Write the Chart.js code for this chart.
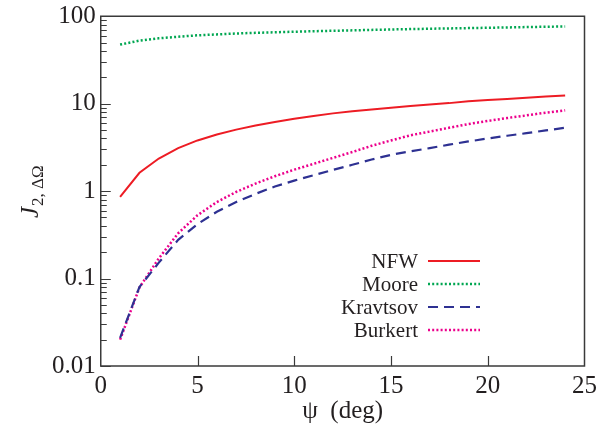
<!DOCTYPE html>
<html>
<head>
<meta charset="utf-8">
<script src="https://cdn.jsdelivr.net/npm/chart.js@4.4.1/dist/chart.umd.min.js"></script>
<style>
  html, body { margin: 0; padding: 0; background: #fff; }
  #wrap { width: 606px; height: 433px; }
</style>
</head>
<body>
<div id="wrap"><canvas id="chart" width="606" height="433"></canvas></div>
<script>
// opening angle psi (deg)
const psi = [1, 2, 3, 4, 5, 6, 7, 8, 9, 10, 11, 12, 13, 14, 15, 16, 17, 18, 19, 20, 21, 22, 23, 24];

// J_2 for each halo profile
const nfw = [0.86, 1.62, 2.36, 3.1, 3.8, 4.45, 5.05, 5.62, 6.18, 6.73, 7.25, 7.75,
  8.2, 8.6, 9.0, 9.4, 9.8, 10.15, 10.65, 11.0, 11.35, 11.7, 12.05, 12.4];
const moore = [47.4, 52.6, 56, 58.3, 60.5, 62, 63.5, 64.6, 65.6, 66.5, 67.4, 68.2,
  69, 69.8, 70.6, 71.3, 72, 72.6, 73.2, 73.8, 74.5, 75.2, 75.8, 76.5];
const kravtsov = [0.021, 0.08, 0.152, 0.277, 0.42, 0.58, 0.75, 0.93, 1.13, 1.32, 1.52, 1.75,
  2.0, 2.3, 2.6, 2.85, 3.1, 3.4, 3.7, 4.0, 4.3, 4.6, 4.95, 5.3];
const burkert = [0.02, 0.079, 0.17, 0.33, 0.53, 0.75, 0.98, 1.22, 1.48, 1.76, 2.05, 2.4,
  2.8, 3.3, 3.8, 4.35, 4.8, 5.3, 5.85, 6.35, 6.85, 7.35, 7.9, 8.4];

const xTicks = [0, 5, 10, 15, 20, 25];
const yDecades = [0.01, 0.1, 1, 10, 100];

const ink = "#231f20";
const serif = "'Liberation Serif', 'DejaVu Serif', serif";

// 1..9 per decade for the log axis
const yTickValues = [];
yDecades.forEach((d, i) => {
  yTickValues.push(d);
  if (i < yDecades.length - 1) {
    for (let m = 2; m <= 9; m++) yTickValues.push(m * d);
  }
});

function pts(ys) {
  return ys.map((y, i) => ({ x: psi[i], y: y }));
}

const datasets = [
  { label: "NFW", data: pts(nfw), borderColor: "#ed1c24", borderWidth: 2, borderDash: [] },
  { label: "Moore", data: pts(moore), borderColor: "#00a651", borderWidth: 2.5, borderDash: [2, 2.2] },
  { label: "Kravtsov", data: pts(kravtsov), borderColor: "#2e3192", borderWidth: 2.2, borderDash: [10, 6] },
  { label: "Burkert", data: pts(burkert), borderColor: "#ec008c", borderWidth: 2.5, borderDash: [2, 2.2] },
].map((d) => Object.assign(d, { pointRadius: 0, fill: false, tension: 0 }));

// frame, inward tick marks, y title and legend
const decorations = {
  id: "decorations",
  afterDatasetsDraw(chart) {
    const ctx = chart.ctx;
    const a = chart.chartArea;
    const xs = chart.scales.x;
    const ys = chart.scales.y;

    ctx.save();
    ctx.strokeStyle = "#3a3a3a";
    ctx.lineWidth = 1.5;
    ctx.strokeRect(a.left, a.top, a.right - a.left, a.bottom - a.top);

    ctx.beginPath();
    yTickValues.forEach((v) => {
      const y = Math.round(ys.getPixelForValue(v)) + 0.5;
      const lg = Math.log10(v);
      const len = Math.abs(lg - Math.round(lg)) < 1e-9 ? 10 : 6;
      ctx.moveTo(a.left, y);
      ctx.lineTo(a.left + len, y);
    });
    xTicks.slice(1, -1).forEach((v) => {
      const x = Math.round(xs.getPixelForValue(v)) + 0.5;
      ctx.moveTo(x, a.bottom);
      ctx.lineTo(x, a.bottom - 10);
    });
    ctx.lineWidth = 1.2;
    ctx.stroke();

    // y axis title: J with subscript "2, ΔΩ"
    ctx.fillStyle = ink;
    ctx.translate(38, 218);
    ctx.rotate(-Math.PI / 2);
    ctx.textBaseline = "alphabetic";
    ctx.textAlign = "left";
    ctx.font = "italic 25px " + serif;
    ctx.fillText("J", 0, 0);
    const jw = ctx.measureText("J").width;
    ctx.font = "17px " + serif;
    ctx.fillText("2, ΔΩ", jw + 1, 5);
    ctx.restore();

    // legend: label on the left, line sample on the right
    ctx.save();
    ctx.font = "21px " + serif;
    ctx.textAlign = "right";
    ctx.textBaseline = "middle";
    chart.data.datasets.forEach((ds, i) => {
      const y = 261 + i * 23;
      ctx.fillStyle = ink;
      ctx.fillText(ds.label, 418, y + 1);
      ctx.beginPath();
      ctx.setLineDash(ds.borderDash);
      ctx.strokeStyle = ds.borderColor;
      ctx.lineWidth = ds.borderWidth;
      ctx.moveTo(428, y);
      ctx.lineTo(480, y);
      ctx.stroke();
    });
    ctx.restore();
  },
};

new Chart(document.getElementById("chart"), {
  type: "line",
  data: { datasets: datasets },
  options: {
    responsive: false,
    animation: false,
    layout: { padding: { left: 47, right: 18, top: 8, bottom: 0.5 } },
    plugins: {
      legend: { display: false },
      tooltip: { enabled: false },
    },
    scales: {
      x: {
        type: "linear",
        min: 0,
        max: 25,
        grid: { display: false, drawTicks: false },
        border: { display: false },
        afterBuildTicks: (scale) => {
          scale.ticks = xTicks.map((v) => ({ value: v }));
        },
        ticks: {
          padding: 9,
          color: ink,
          font: { family: serif, size: 25, lineHeight: 0.9 },
          maxRotation: 0,
        },
        title: {
          display: true,
          text: "ψ  (deg)",
          color: ink,
          font: { family: serif, size: 25, lineHeight: 1.2 },
          padding: { top: -10, bottom: 6 },
        },
      },
      y: {
        type: "logarithmic",
        min: 0.01,
        max: 100,
        grid: { display: false, drawTicks: false },
        border: { display: false },
        afterBuildTicks: (scale) => {
          scale.ticks = yTickValues.map((v) => ({ value: v }));
        },
        ticks: {
          padding: 5,
          autoSkip: false,
          color: ink,
          font: { family: serif, size: 25, lineHeight: 0.9 },
          callback: (value) => {
            const lg = Math.log10(value);
            return Math.abs(lg - Math.round(lg)) < 1e-9 ? String(value) : "";
          },
        },
      },
    },
  },
  plugins: [decorations],
});
</script>
</body>
</html>
